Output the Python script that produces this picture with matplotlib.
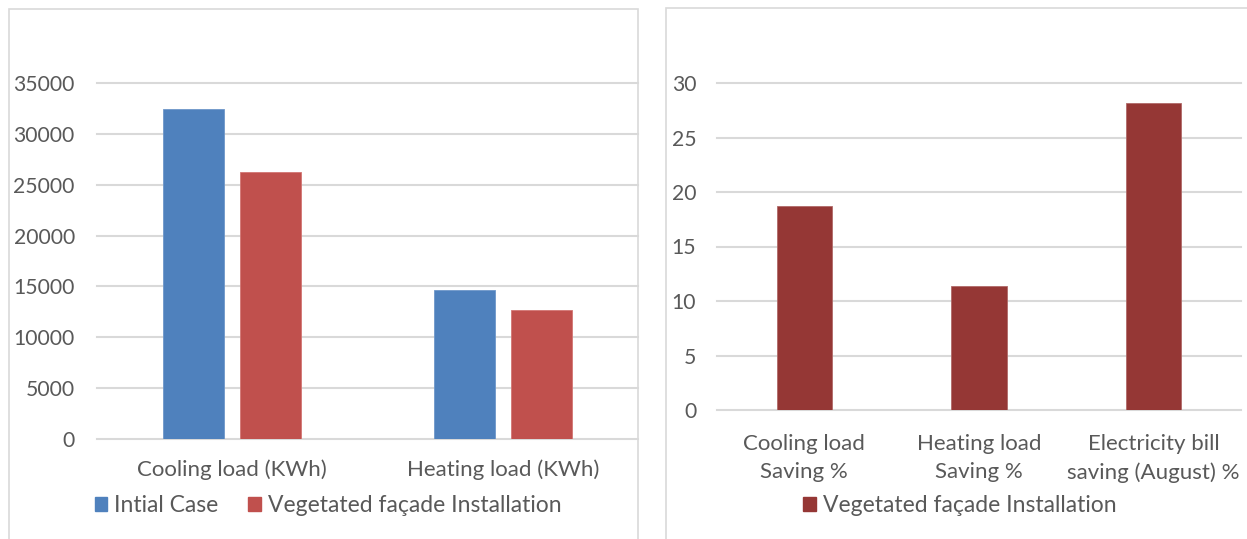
import matplotlib
matplotlib.use("Agg")
import matplotlib.pyplot as plt
from matplotlib.patches import Rectangle, Patch
import numpy as np

# ---- data ----
load_categories = ["Cooling load (KWh)", "Heating load (KWh)"]
initial_case = [32400, 14650]
vegetated_load = [26250, 12680]
load_ticks = [0, 5000, 10000, 15000, 20000, 25000, 30000, 35000]

saving_categories = ["Cooling load\nSaving %", "Heating load\nSaving %", "Electricity bill\nsaving (August) %"]
saving_values = [18.7, 11.4, 28.2]
saving_ticks = [0, 5, 10, 15, 20, 25, 30]

series_labels = ["Intial Case", "Vegetated façade Installation"]

# ---- style ----
W, H = 1247, 539
DPI = 100
BLUE = "#4F81BD"
RED = "#C0504D"
DARKRED = "#953735"
GRID = "#D9D9D9"
TXT = "#595959"
FS_TICK = 15.2
FS_CAT = 16
FS_LEG = 16.5
plt.rcParams["font.family"] = ["Lato", "DejaVu Sans"]

fig = plt.figure(figsize=(W / DPI, H / DPI), dpi=DPI)
fig.patch.set_facecolor("white")

def fx(px):
    return px / W

def fy(py):
    return 1 - py / H

# panel borders
fig.patches.append(Rectangle((fx(9), fy(560)), fx(638) - fx(9), fy(9) - fy(560),
                             transform=fig.transFigure, fill=False, edgecolor=GRID, lw=1.2))
fig.patches.append(Rectangle((fx(666), fy(560)), fx(1254) - fx(666), fy(8) - fy(560),
                             transform=fig.transFigure, fill=False, edgecolor=GRID, lw=1.2))

def style_axes(ax, ticks, pad):
    for s in ax.spines.values():
        s.set_visible(False)
    ax.set_yticks(ticks)
    ax.yaxis.grid(True, color=GRID, lw=1.5)
    ax.set_axisbelow(True)
    for gl in ax.get_ygridlines():
        gl.set_clip_on(False)
    ax.tick_params(axis="y", length=0, pad=pad, labelsize=FS_TICK, labelcolor=TXT)
    ax.tick_params(axis="x", length=0, labelsize=FS_CAT, labelcolor=TXT)

# ---- left chart ----
ax1 = fig.add_axes([fx(97), fy(439), fx(638) - fx(97), fy(83) - fy(439)])
x = np.arange(len(load_categories))
bw = 0.225
off = 0.1425
ax1.bar(x - off, initial_case, bw, color=BLUE, edgecolor="#6f97c9", lw=0.6, label=series_labels[0])
ax1.bar(x + off, vegetated_load, bw, color=RED, edgecolor="#d27573", lw=0.6, label=series_labels[1])
ax1.set_xlim(-0.5, len(load_categories) - 0.5)
ax1.set_ylim(0, 35000)
style_axes(ax1, load_ticks, 16)
ax1.set_yticklabels([str(t) for t in load_ticks])
ax1.set_xticks(x)
ax1.set_xticklabels(load_categories)
ax1.tick_params(axis="x", pad=14.5)

fig.legend(handles=[Patch(color=BLUE, label=series_labels[0]), Patch(color=RED, label=series_labels[1])],
           loc="center", bbox_to_anchor=(fx(328), fy(506)), ncol=2, frameon=False,
           fontsize=FS_LEG, labelcolor=TXT, handlelength=0.55, handleheight=0.55,
           handletextpad=0.3, columnspacing=1.3, borderpad=0)

# ---- right chart ----
ax2 = fig.add_axes([fx(717), fy(410), fx(1241) - fx(717), fy(83) - fy(410)])
x2 = np.arange(len(saving_categories))
ax2.bar(x2, saving_values, 0.315, color=DARKRED, edgecolor="#b06a68", lw=0.6)
ax2.set_xlim(-0.5, len(saving_categories) - 0.5)
ax2.set_ylim(0, 30)
style_axes(ax2, saving_ticks, 15)
ax2.set_yticklabels([str(t) for t in saving_ticks])
ax2.set_xticks(x2)
ax2.set_xticklabels(saving_categories, linespacing=1.55)
ax2.tick_params(axis="x", pad=17)

fig.legend(handles=[Patch(color=DARKRED, label=series_labels[1])],
           loc="center", bbox_to_anchor=(fx(960), fy(506)), frameon=False,
           fontsize=FS_LEG, labelcolor=TXT, handlelength=0.55, handleheight=0.55,
           handletextpad=0.3, borderpad=0)

fig.savefig("out.png", dpi=DPI, facecolor="white")
